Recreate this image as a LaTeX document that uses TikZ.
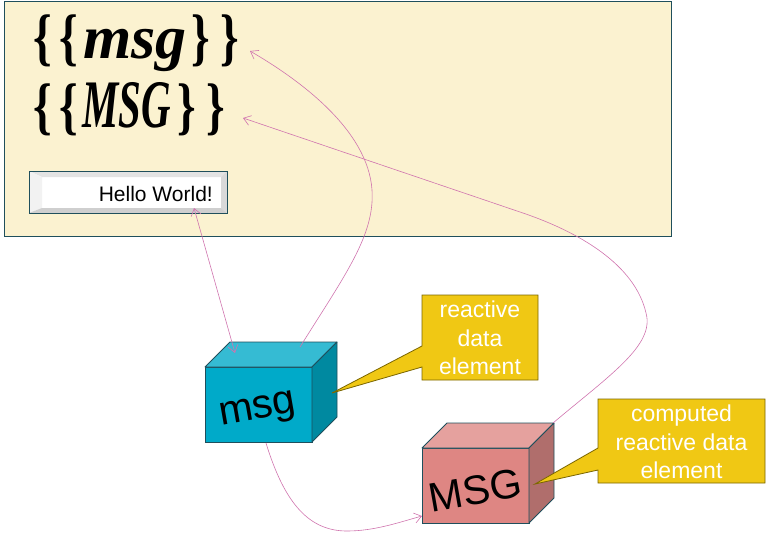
\documentclass[tikz,border=0pt]{standalone}
\usepackage{fontspec}
\setmainfont{Liberation Sans}
\newfontfamily\brushfont{Liberation Serif}
\usetikzlibrary{arrows.meta,calc}
\definecolor{panelfill}{HTML}{FBF2D0}
\definecolor{edgecol}{HTML}{1F4F5C}
\definecolor{cyanfront}{HTML}{00AAC9}
\definecolor{cyantop}{HTML}{35BBD3}
\definecolor{cyanside}{HTML}{0089A0}
\definecolor{redfront}{HTML}{DE8683}
\definecolor{redtop}{HTML}{E5A19E}
\definecolor{redside}{HTML}{B06E6C}
\definecolor{callfill}{HTML}{F0C814}
\definecolor{calledge}{HTML}{7A6500}
\definecolor{linkcol}{HTML}{D074AE}
\newcommand\brL{{\brushfont\bfseries\fontsize{63}{63}\selectfont\scalebox{0.75}[1]{\{}}}
\newcommand\brR{{\brushfont\bfseries\fontsize{63}{63}\selectfont\scalebox{0.75}[1]{\}}}}
\tikzset{
  link/.style={draw=linkcol, line width=0.6pt, -{Straight Barb[length=7pt,width=10pt]}},
  biglink/.style={draw=linkcol, line width=0.6pt, {Straight Barb[length=7pt,width=10pt]}-{Straight Barb[length=7pt,width=10pt]}},
  cubefront/.style={draw=edgecol, line width=0.8pt, minimum width=107pt, minimum height=75pt, inner sep=0pt, outer sep=0pt},
  cubeface/.style={draw=edgecol, line width=0.8pt, line join=round},
  callbox/.style={minimum width=116pt, minimum height=85pt, inner sep=0pt, outer sep=0pt},
  callshape/.style={fill=callfill, draw=calledge, line width=0.8pt, line join=miter},
  calltext/.style={text=white, align=center, font=\fontsize{23}{28.5}\selectfont, inner sep=0pt},
  brush/.style={inner sep=0pt, anchor=base west},
  cubetext/.style={inner sep=0pt, rotate=10, font=\fontsize{41}{41}\selectfont}
}
\begin{document}
\begin{tikzpicture}[x=1pt,y=-1pt]
\useasboundingbox (0,0) rectangle (771,558);
% panel
\node[draw=edgecol, fill=panelfill, line width=1pt, minimum width=667pt, minimum height=235pt, inner sep=0pt, outer sep=0pt] (panel) at (337.5,118.5) {};
\node[brush] (tmsg) at (33,58) {\brL\hspace{8pt}\brL\hspace{5pt}{\brushfont\bfseries\itshape\fontsize{62}{62}\selectfont msg}\hspace{5pt}\brR\hspace{10pt}\brR};
\node[brush] (tMSG) at (33,127) {\brL\hspace{8pt}\brL\hspace{4pt}{\brushfont\bfseries\itshape\fontsize{68}{68}\selectfont\scalebox{0.6}[1]{MSG}}\hspace{7pt}\brR\hspace{10pt}\brR};
% text box
\node[draw=edgecol, line width=1pt, fill=white, minimum width=198pt, minimum height=42pt, inner sep=0pt, outer sep=0pt] (hbox) at (128,192) {};
\fill[gray!22] (hbox.north west) -- (hbox.north east) -- (221,177) -- (42,177) -- cycle;
\fill[gray!10] (hbox.north west) -- (42,177) -- (42,208) -- (hbox.south west) -- cycle;
\fill[gray!30] (hbox.north east) -- (221,177) -- (221,208) -- (hbox.south east) -- cycle;
\fill[gray!38] (hbox.south west) -- (42,208) -- (221,208) -- (hbox.south east) -- cycle;
\draw[edgecol, line width=1pt] (hbox.north west) rectangle (hbox.south east);
\node[inner sep=0pt, anchor=base east, font=\fontsize{21}{21}\selectfont] (hello) at (213,201.5) {Hello World!};
% msg cube
\node[cubefront, fill=cyanfront] (msgF) at (258.5,404.5) {};
\filldraw[cubeface, fill=cyantop] (msgF.north west) -- ([shift={(25,-25)}]msgF.north west) -- ([shift={(25,-25)}]msgF.north east) -- (msgF.north east) -- cycle;
\filldraw[cubeface, fill=cyanside] (msgF.north east) -- ([shift={(25,-25)}]msgF.north east) -- ([shift={(25,-25)}]msgF.south east) -- (msgF.south east) -- cycle;
\node[cubetext] (msgT) at (258,412) {msg};
% MSG cube
\node[cubefront, fill=redfront] (MSGF) at (475.5,485.5) {};
\filldraw[cubeface, fill=redtop] (MSGF.north west) -- ([shift={(25,-25)}]MSGF.north west) -- ([shift={(25,-25)}]MSGF.north east) -- (MSGF.north east) -- cycle;
\filldraw[cubeface, fill=redside] (MSGF.north east) -- ([shift={(25,-25)}]MSGF.north east) -- ([shift={(25,-25)}]MSGF.south east) -- (MSGF.south east) -- cycle;
\node[cubetext] (MSGT) at (475,490) {MSG};
% callout 1
\node[callbox] (co1) at (480,337.5) {};
\coordinate (tip1) at (332,393);
\filldraw[callshape] (co1.north west) -- (co1.north east) -- (co1.south east) -- (co1.south west) -- ([yshift=13pt]co1.south west) -- (tip1) -- ([yshift=34pt]co1.south west) -- cycle;
\node[calltext] (co1t) at (480,338) {reactive\\data\\element};
% callout 2
\node[callbox, minimum width=167pt, minimum height=84pt] (co2) at (681.5,441) {};
\coordinate (tip2) at (535,484);
\filldraw[callshape] (co2.north west) -- (co2.north east) -- (co2.south east) -- (co2.south west) -- ([yshift=13pt]co2.south west) -- (tip2) -- ([yshift=35pt]co2.south west) -- cycle;
\node[calltext] (co2t) at (681.5,442) {computed\\reactive data\\element};
% link anchors
\coordinate (l1s) at (300,347);
\coordinate (l1e) at (250,51);
\coordinate (l2s) at (553,423);
\coordinate (l2e) at (243,118);
\coordinate (l3s) at (194,208);
\coordinate (l3e) at (235,353);
\coordinate (l4s) at (266,443);
\coordinate (l4e) at (422,516);
% links
\draw[link] (l1s) .. controls (345,275) and (375,235) .. (372,190) .. controls (368,130) and (300,80) .. (l1e);
\draw[link] (l2s) .. controls (610,375) and (655,345) .. (646,313) .. controls (635,265) and (580,232) .. (520,212) -- (l2e);
\draw[biglink] (l3s) -- (l3e);
\draw[link] (l4s) .. controls (285,505) and (310,531) .. (347,531) .. controls (375,531) and (400,522) .. (l4e);
\end{tikzpicture}
\end{document}
